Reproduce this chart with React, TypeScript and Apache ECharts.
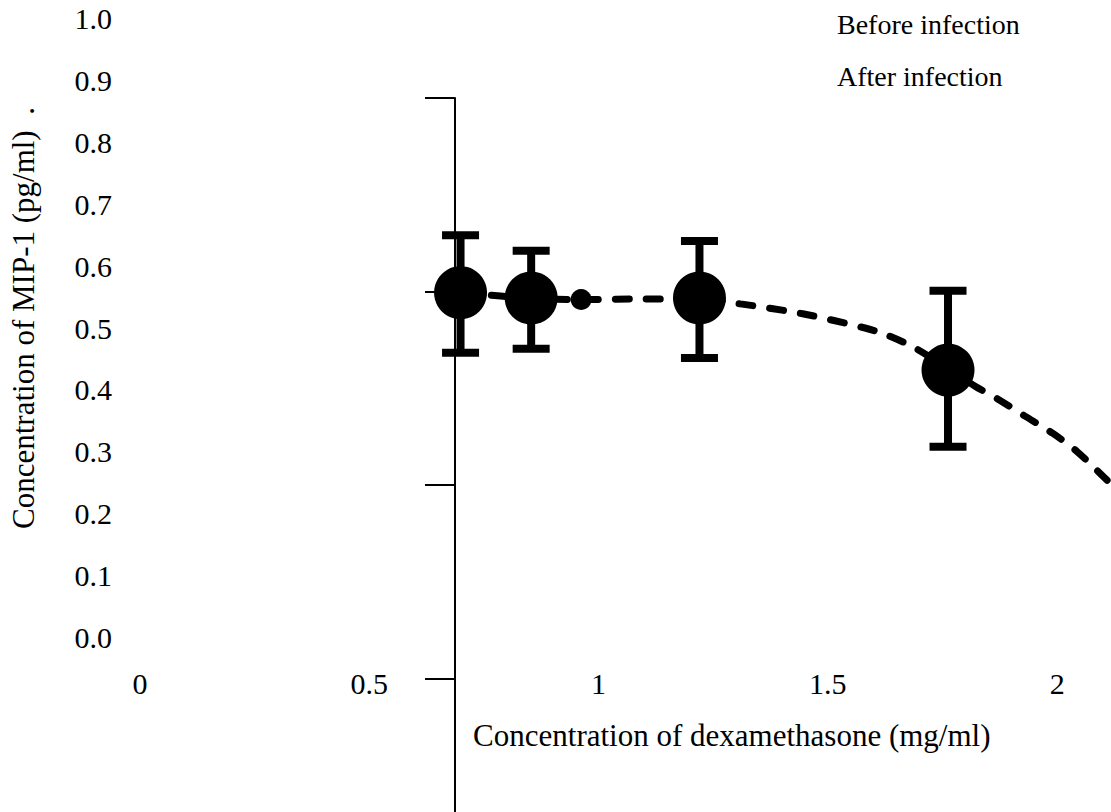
import React, { useEffect, useRef } from "react";
import * as echarts from "echarts";

// Data
const pointX = [0.699, 0.853, 1.22, 1.762];
const pointY = [0.557, 0.5485, 0.5485, 0.432];
const errHigh = [0.65, 0.625, 0.6405, 0.56];
const errLow = [0.46, 0.4666, 0.4515, 0.308];

const afterDotX = [0.962];
const afterDotY = [0.546];

const curveX = [0.699, 0.853, 0.962, 1.099, 1.22, 1.309, 1.445, 1.581, 1.624, 1.687, 1.761, 1.821, 1.871, 1.929, 1.99, 2.044, 2.109];
const curveY = [0.557, 0.548, 0.546, 0.547, 0.547, 0.539, 0.523, 0.5, 0.49, 0.469, 0.435, 0.406, 0.385, 0.358, 0.33, 0.3, 0.254];

const xTickLabels = [0, 0.5, 1, 1.5, 2];
const yTickLabels = [0, 0.1, 0.2, 0.3, 0.4, 0.5, 0.6, 0.7, 0.8, 0.9, 1.0];
const sideAxisTicks = [0, 1, 2, 3];

const FONT = '"Liberation Serif", "Times New Roman", serif';

export default function App() {
  const ref = useRef<HTMLDivElement>(null);
  useEffect(() => {
    if (!ref.current) return;
    const chart = echarts.init(ref.current, null, { renderer: "svg" });
    const points = pointX.map((x, i) => [x, pointY[i]]);
    const errs = pointX.map((x, i) => [x, errLow[i], errHigh[i]]);
    const curve = curveX.map((x, i) => [x, curveY[i]]);
    const dots = afterDotX.map((x, i) => [x, afterDotY[i]]);

    chart.setOption({
      animation: false,
      backgroundColor: "#ffffff",
      textStyle: { fontFamily: FONT, color: "#000" },
      legend: {
        orient: "vertical",
        left: 817,
        top: 5,
        itemGap: 24,
        itemWidth: 10,
        itemHeight: 10,
        icon: "rect",
        itemStyle: { opacity: 0 },
        lineStyle: { opacity: 0 },
        textStyle: { fontFamily: FONT, fontSize: 28, color: "#000" },
        data: ["Before infection", "After infection"],
      },
      grid: [
        { left: 131.7, right: 3.4, top: 18.5, bottom: 174.5, containLabel: false },
        { left: 455, top: 98, bottom: 0, width: 10, containLabel: false },
      ],
      xAxis: [
        {
          type: "value",
          gridIndex: 0,
          min: 0,
          max: 2.11,
          interval: 0.5,
          axisLine: { show: false },
          axisTick: { show: false },
          splitLine: { show: false },
          axisLabel: {
            customValues: xTickLabels,
            margin: 31,
            fontFamily: FONT,
            fontSize: 30,
            color: "#000",
            formatter: (v: number) => String(v),
          },
          name: "Concentration of dexamethasone (mg/ml)",
          nameLocation: "middle",
          nameGap: 82,
          nameTextStyle: { fontFamily: FONT, fontSize: 31, color: "#000", padding: [0, 0, 0, 216] },
        },
        { type: "value", gridIndex: 1, show: false, min: 0, max: 1 },
      ],
      yAxis: [
        {
          type: "value",
          gridIndex: 0,
          min: 0,
          max: 1,
          interval: 0.1,
          axisLine: { show: false },
          axisTick: { show: false },
          splitLine: { show: false },
          axisLabel: {
            customValues: yTickLabels,
            margin: 28,
            fontFamily: FONT,
            fontSize: 30,
            color: "#000",
            formatter: (v: number) => v.toFixed(1),
          },
          name: "Concentration of MIP-1 (pg/ml)  .",
          nameLocation: "middle",
          nameRotate: 90,
          nameGap: 101,
          nameTextStyle: { fontFamily: FONT, fontSize: 31, color: "#000", padding: [0, 0, 0, 20] },
        },
        {
          type: "value",
          gridIndex: 1,
          min: -0.691,
          max: 3,
          position: "left",
          axisLine: { show: true, onZero: false, lineStyle: { color: "#000", width: 2 } },
          axisTick: { show: true, inside: false, length: 30, customValues: sideAxisTicks, lineStyle: { color: "#000", width: 2 } },
          axisLabel: { show: false },
          splitLine: { show: false },
        },
      ],
      series: [
        {
          name: "After infection",
          type: "line",
          xAxisIndex: 0,
          yAxisIndex: 0,
          data: curve,
          smooth: 0.3,
          showSymbol: false,
          symbol: "none",
          clip: false,
          lineStyle: { color: "#000", width: 7, type: [14, 17], cap: "round" },
          itemStyle: { color: "#000" },
          z: 2,
        },
        {
          name: "Before infection",
          type: "custom",
          xAxisIndex: 0,
          yAxisIndex: 0,
          data: errs,
          renderItem: (params: any, api: any) => {
            const x = api.value(0);
            const lo = api.coord([x, api.value(1)]);
            const hi = api.coord([x, api.value(2)]);
            const half = 18.5;
            const style = { stroke: "#000", lineWidth: 8, fill: "none" };
            return {
              type: "group",
              children: [
                { type: "line", shape: { x1: lo[0], y1: lo[1], x2: hi[0], y2: hi[1] }, style },
                { type: "line", shape: { x1: hi[0] - half, y1: hi[1], x2: hi[0] + half, y2: hi[1] }, style },
                { type: "line", shape: { x1: lo[0] - half, y1: lo[1], x2: lo[0] + half, y2: lo[1] }, style },
              ],
            };
          },
          itemStyle: { color: "#000" },
          z: 3,
        },
        {
          name: "Before infection",
          type: "scatter",
          xAxisIndex: 0,
          yAxisIndex: 0,
          data: points,
          symbol: "circle",
          symbolSize: 53,
          itemStyle: { color: "#000", opacity: 1 },
          z: 4,
        },
        {
          name: "After infection",
          type: "scatter",
          xAxisIndex: 0,
          yAxisIndex: 0,
          data: dots,
          symbol: "circle",
          symbolSize: 21,
          itemStyle: { color: "#000", opacity: 1 },
          z: 4,
        },
      ],
    });
    return () => chart.dispose();
  }, []);
  return <div ref={ref} style={{ position: "absolute", left: 0, top: 0, width: 1111, height: 812 }} />;
}
